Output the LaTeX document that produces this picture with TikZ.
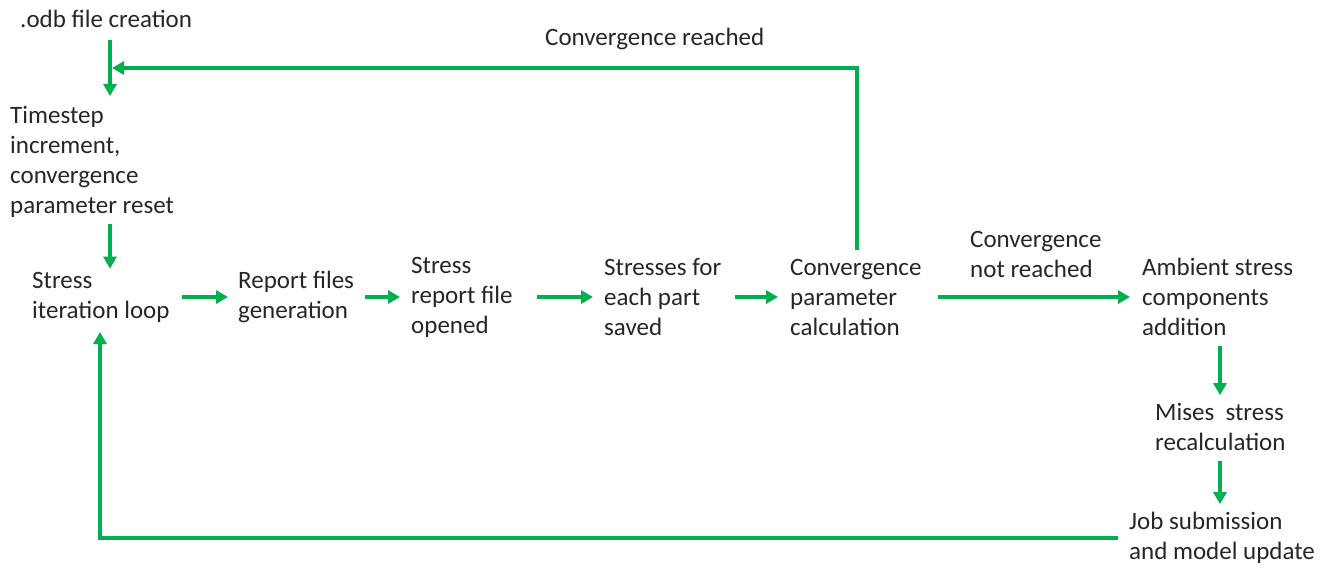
\documentclass[tikz,border=0pt]{standalone}
\usepackage{fontspec}
\setmainfont{Carlito}
\usetikzlibrary{arrows.meta,calc}
\definecolor{flowgreen}{RGB}{0,176,80}
\begin{document}
\begin{tikzpicture}[x=1pt,y=-1pt,
  lbl/.style={anchor=west,align=left,inner sep=0pt,text=black!85,font=\fontsize{25}{30}\selectfont},
  flow/.style={draw=flowgreen,line width=3.6pt,-{Triangle[length=12pt,width=13pt]}},
  ]
\useasboundingbox (0,0) rectangle (1334,570);

% process steps
\node[lbl] (odb)    at (20,19)   {.odb file creation};
\node[lbl] (reach)  at (545,39)  {Convergence reached};
\node[lbl] (tstep)  at (10,162)  {Timestep\\increment,\\convergence\\parameter reset};
\node[lbl] (loop)   at (32,297)  {Stress\\iteration loop};
\node[lbl] (report) at (238,297) {Report files\\generation};
\node[lbl] (open)   at (411,297) {Stress\\report file\\opened};
\node[lbl] (save)   at (604,297) {Stresses for\\each part\\saved};
\node[lbl] (conv)   at (790,297) {Convergence\\parameter\\calculation};
\node[lbl] (notr)   at (970,254) {Convergence\\not reached};
\node[lbl] (amb)    at (1142,297){Ambient stress\\components\\addition};
\node[lbl] (mises)  at (1155,427){Mises~~stress\\recalculation};
\node[lbl] (job)    at (1129,538){Job submission\\and model update};

% columns of the vertical connectors
\coordinate (leftcol)  at (110,0);
\coordinate (rightcol) at (1220,0);
\coordinate (convcol)  at (857,0);
% fixed points of the two feedback paths
\coordinate (trunktop) at (110,40);
\coordinate (trunkbot) at (110,96);
\coordinate (backin)   at (112,68);
\coordinate (loopin)   at (100,332);

% main flow
\draw[flow] (trunktop) -- (trunkbot);
\draw[flow] ($(tstep.south -| leftcol)+(0,6)$) -- ($(loop.north -| leftcol)+(0,-3)$);
\draw[flow] ($(loop.east)+(12,0)$) -- ($(report.west)+(-10,0)$);
\draw[flow] ($(report.east)+(11,0)$) -- ($(open.west)+(-11,0)$);
\draw[flow] ($(open.east)+(24,0)$) -- ($(save.west)+(-11,0)$);
\draw[flow] ($(save.east)+(13,0)$) -- ($(conv.west)+(-12,0)$);
\draw[flow] ($(conv.east)+(16,0)$) -- ($(amb.west)+(-12,0)$);
\draw[flow] ($(amb.south -| rightcol)+(0,10)$) -- ($(mises.north -| rightcol)+(0,-8)$);
\draw[flow] ($(mises.south -| rightcol)+(0,10)$) -- ($(job.north -| rightcol)+(0,-8)$);

% convergence reached: back to the time step
\draw[flow] ($(conv.north -| convcol)+(0,-9)$) |- (backin);
% convergence not reached: resubmit and iterate again
\draw[flow] ($(job.west)+(-11,0)$) -| (loopin);
\end{tikzpicture}
\end{document}
